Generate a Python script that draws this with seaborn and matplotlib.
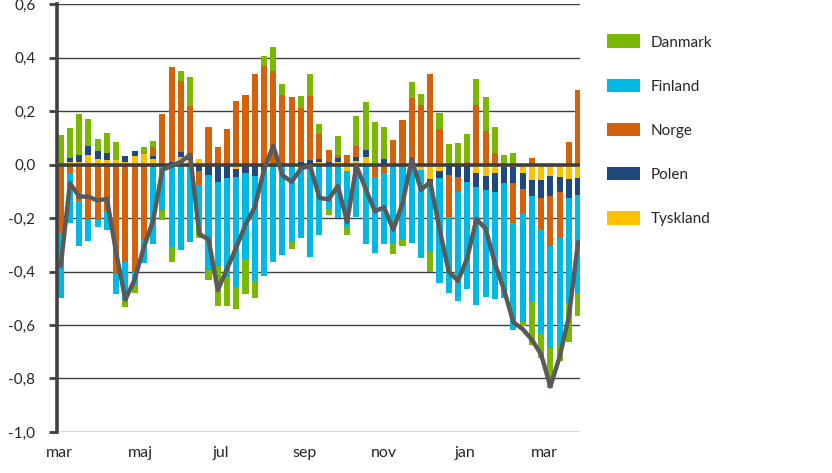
import numpy as np
import matplotlib
matplotlib.use("Agg")
import matplotlib.pyplot as plt
from matplotlib.patches import Patch
import seaborn as sns

# weekly contributions per country (stacking order from zero outwards)
tyskland = [0, 0.01, 0.01, 0.035, 0.02, 0.017, 0.016, 0.01, 0.03, 0.04,
            0.02, 0, 0, 0.029, 0.015, 0.02, 0, 0, 0, -0.017,
            0, 0, 0, 0, 0, 0, 0, 0, 0.008, 0,
            0.01, -0.026, 0.013, 0.028, 0, 0, 0, 0, 0, -0.02,
            -0.055, -0.026, 0, 0, 0, -0.032, -0.042, -0.032, -0.01, -0.01,
            -0.03, -0.057, -0.057, -0.042, -0.047, -0.055, -0.05]
polen = [0, 0.015, 0.025, 0.034, 0.03, 0.025, 0, 0.02, 0.019, 0,
         0.01, 0, 0.008, 0.017, 0.014, -0.026, -0.04, -0.067, -0.05, -0.03,
         -0.03, -0.042, -0.022, 0, 0.007, 0, 0.01, 0.017, 0.012, 0.008,
         0.015, 0, 0.015, 0.025, 0, 0.02, 0, 0, 0, 0,
         -0.027, -0.025, -0.039, -0.047, -0.064, -0.052, -0.052, -0.069, -0.06, -0.06,
         -0.062, -0.062, -0.069, -0.075, -0.057, -0.071, -0.063]
norge = [-0.26, -0.03, -0.138, -0.207, -0.207, -0.176, -0.41, -0.363, -0.40, -0.28,
         0.037, 0.19, 0.355, 0.265, 0.19, -0.05, 0.142, 0.064, 0.133, 0.238,
         0.26, 0.34, 0.369, 0.348, 0.253, 0.254, 0.2, 0.24, 0.094, 0.047,
         0.01, 0.036, 0.04, 0, -0.047, -0.03, 0.092, 0.167, 0.248, 0.223,
         0.338, 0.133, -0.156, -0.057, 0.011, 0.223, 0.127, 0.042, 0, -0.15,
         -0.093, 0.024, -0.116, -0.187, -0.171, 0.086, 0.28]
finland = [-0.24, -0.19, -0.168, -0.08, -0.025, -0.07, -0.075, -0.143, -0.05, -0.087,
           -0.297, -0.17, -0.307, -0.32, -0.29, -0.155, -0.355, -0.314, -0.37, -0.41,
           -0.324, -0.395, -0.396, -0.366, -0.338, -0.29, -0.275, -0.344, -0.263, -0.167,
           -0.2, -0.206, -0.195, -0.298, -0.284, -0.267, -0.292, -0.284, -0.292, -0.33,
           -0.243, -0.393, -0.284, -0.405, -0.402, -0.44, -0.40, -0.40, -0.43, -0.40,
           -0.405, -0.393, -0.389, -0.383, -0.405, -0.393, -0.368]
danmark = [0.11, 0.11, 0.155, 0.10, 0.047, 0.075, 0.07, -0.027, -0.03, 0.027,
           0.02, -0.037, -0.056, 0.037, 0.107, -0.044, -0.035, -0.147, -0.11, -0.085,
           -0.13, -0.062, 0.037, 0.093, 0.04, -0.027, 0.045, 0.08, 0.037, -0.02,
           0.072, -0.03, 0.112, 0.18, 0.158, 0.12, -0.042, -0.02, 0.062, 0.041,
           -0.075, 0.059, 0.076, 0.082, 0.102, 0.097, 0.127, 0.10, 0.036, 0.042,
           -0.012, -0.162, -0.093, -0.15, -0.056, -0.143, -0.087]
netto = [-0.38, -0.07, -0.12, -0.12, -0.135, -0.128, -0.33, -0.505, -0.43, -0.31,
         -0.21, -0.02, -0.005, 0.01, 0.036, -0.26, -0.28, -0.47, -0.39, -0.31,
         -0.225, -0.16, -0.02, 0.07, -0.04, -0.065, -0.015, -0.005, -0.125, -0.13,
         -0.08, -0.215, -0.005, -0.09, -0.175, -0.16, -0.243, -0.145, 0.02, -0.095,
         -0.065, -0.24, -0.40, -0.435, -0.35, -0.204, -0.24, -0.37, -0.47, -0.59,
         -0.615, -0.655, -0.71, -0.83, -0.72, -0.57, -0.29]

month_labels = ["mar", "maj", "jul", "sep", "nov", "jan", "mar"]
month_pos = [-0.2, 8.6, 17.3, 26.4, 35.0, 43.8, 52.4]

series = [
    ("Tyskland", tyskland, "#FFC000"),
    ("Polen", polen, "#1F497D"),
    ("Norge", norge, "#D4620A"),
    ("Finland", finland, "#00B8E4"),
    ("Danmark", danmark, "#7AB800"),
]

sns.set_theme(style="white")
plt.rcParams["font.family"] = ["Lato", "DejaVu Sans"]

fig = plt.figure(figsize=(8.32, 4.73), dpi=100)
ax = fig.add_axes([0.0691, 0.0867, 0.6279, 0.9048])

weeks = np.arange(len(netto))
pos_base = np.zeros(len(weeks))
neg_base = np.zeros(len(weeks))
for name, vals, color in series:
    v = np.array(vals, dtype=float)
    pos = np.where(v > 0, v, 0)
    neg = np.where(v < 0, v, 0)
    ax.bar(weeks, pos, bottom=pos_base, width=0.66, color=color, linewidth=0, zorder=2)
    ax.bar(weeks, neg, bottom=neg_base, width=0.66, color=color, linewidth=0, zorder=2)
    pos_base += pos
    neg_base += neg

ax.axhline(0, color="#404040", lw=2.6, zorder=3)
sns.lineplot(x=weeks, y=netto, ax=ax, color="#5A5A5A", linewidth=3.2, zorder=4)

ax.set_xlim(-0.35, 56.2)
ax.set_ylim(-1.0, 0.6)
yt = np.round(np.arange(-1.0, 0.61, 0.2), 1)
ax.set_yticks(yt)
ax.set_yticklabels([f"{t:.1f}".replace(".", ",").replace("-0,0", "0,0") for t in yt],
                   fontsize=11, color="#262626")
ax.set_xticks(month_pos)
ax.set_xticklabels(month_labels, fontsize=11.5, color="#262626")

ax.yaxis.grid(True, color="#404040", lw=1)
ax.xaxis.grid(False)
ax.set_axisbelow(True)
for s in ["top", "right", "bottom"]:
    ax.spines[s].set_visible(False)
ax.spines["left"].set_color("#404040")
ax.spines["left"].set_linewidth(2.6)
ax.tick_params(axis="y", which="both", left=True, length=6, width=2,
               color="#404040", pad=10)
ax.tick_params(axis="x", length=0, pad=10)
ax.set_xlabel("")
ax.set_ylabel("")

handles = [Patch(facecolor=c, edgecolor="none", label=n)
           for n, _, c in reversed(series)]
fig.legend(handles=handles, loc="upper left", bbox_to_anchor=(0.722, 0.940),
           frameon=False, fontsize=11, handlelength=2.2, handleheight=1.0,
           handletextpad=0.7, labelspacing=1.9, borderaxespad=0)

fig.savefig("out.png", dpi=100)
